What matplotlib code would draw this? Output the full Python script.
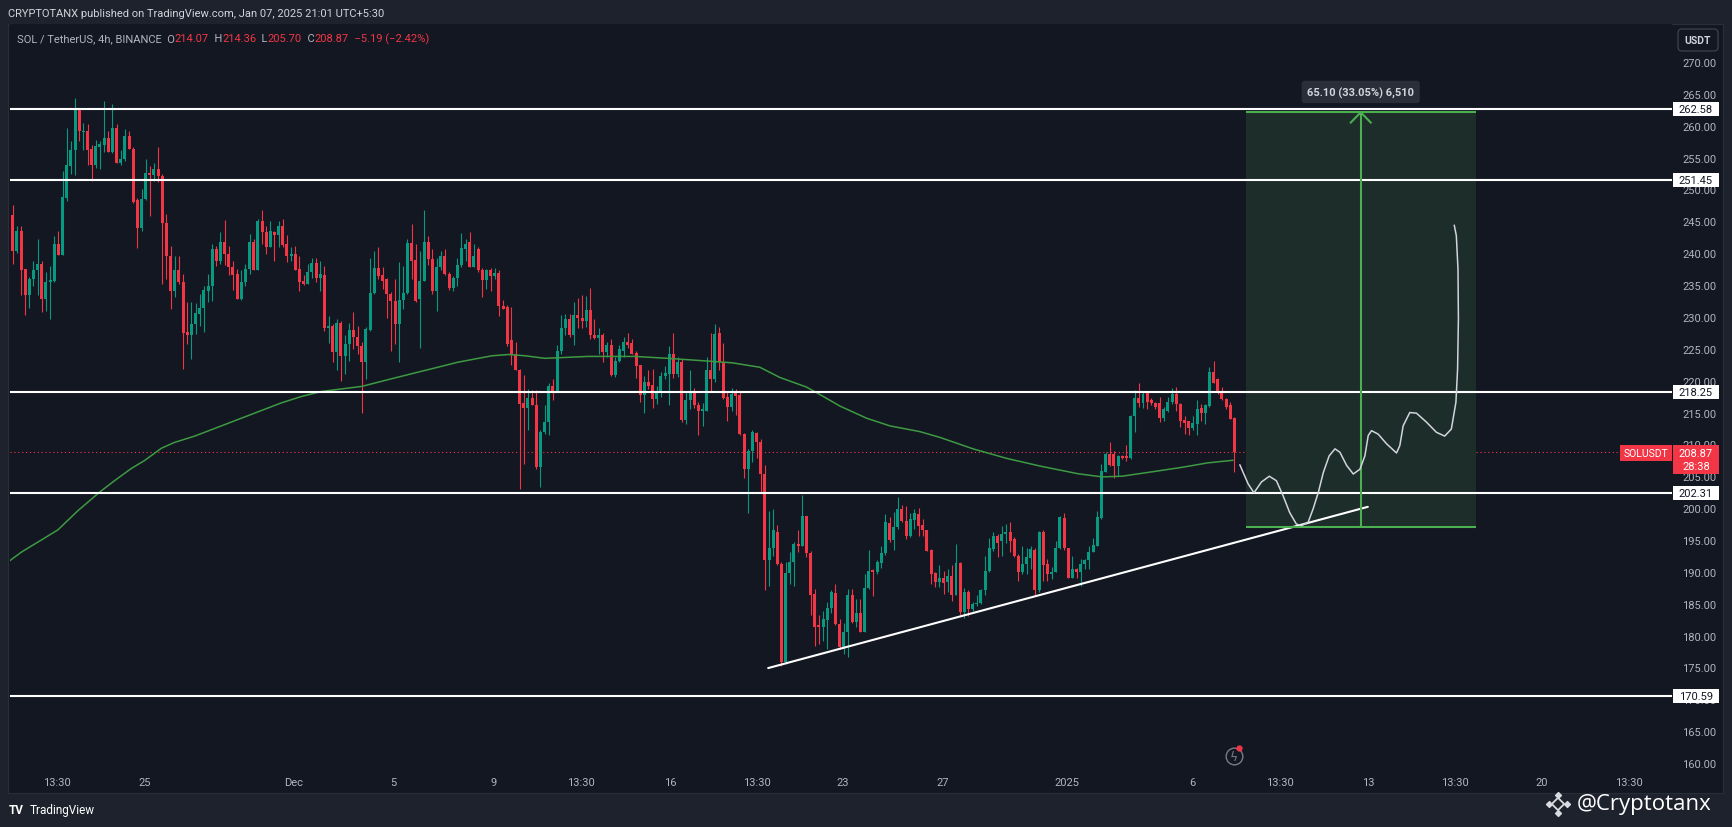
import matplotlib
matplotlib.use('Agg')
import matplotlib.pyplot as plt
from matplotlib.patches import Rectangle, FancyBboxPatch
from matplotlib.ticker import FormatStrFormatter
from matplotlib.transforms import blended_transform_factory
import numpy as np

plt.rcParams['font.family'] = ['Roboto', 'DejaVu Sans']

# ---- SOL/USDT 4h candles (index 0 = first visible candle)
opens = [
    246.0, 240.4, 243.5, 237.5, 233.4, 235.9, 237.4, 238.3, 232.8, 235.4,
    235.7, 241.4, 239.7, 248.6, 253.7, 256.2, 262.5, 259.0, 259.1, 256.3,
    253.8, 256.6, 257.0, 258.0, 255.8, 259.6, 254.2, 254.7, 258.4, 256.4,
    248.4, 243.9, 248.5, 252.6, 252.2, 253.2, 252.1, 244.8, 239.5, 234.0,
    237.4, 235.5, 227.6, 227.2, 228.9, 230.5, 231.4, 234.1, 234.8, 240.6,
    238.8, 241.8, 239.9, 237.9, 236.7, 232.8, 235.4, 237.5, 241.8, 237.4,
    245.1, 243.4, 240.9, 243.3, 242.8, 244.2, 241.4, 239.6, 239.9, 237.5,
    235.7, 235.2, 237.0, 238.5, 236.1, 236.6, 228.3, 228.6, 224.5, 229.0,
    223.8, 225.7, 227.9, 226.8, 225.5, 223.0, 228.0, 233.8, 237.6, 236.5,
    236.0, 233.6, 232.5, 228.9, 232.7, 233.8, 241.6, 239.0, 232.8, 235.7,
    241.8, 239.1, 234.0, 237.9, 239.5, 236.7, 234.5, 236.1, 238.2, 240.7,
    241.7, 237.9, 240.6, 237.4, 235.8, 237.3, 236.4, 236.9, 231.7, 231.5,
    226.4, 224.2, 221.7, 216.5, 215.7, 217.2, 216.1, 206.4, 211.9, 213.5,
    219.2, 218.2, 224.7, 228.2, 229.7, 227.1, 230.3, 229.9, 229.4, 231.1,
    227.2, 226.7, 227.2, 224.5, 225.6, 220.9, 223.1, 224.7, 226.1, 225.9,
    224.4, 222.4, 217.7, 219.8, 219.3, 217.1, 218.4, 220.7, 221.0, 224.2,
    221.0, 223.0, 213.9, 216.9, 218.2, 216.2, 215.3, 215.3, 221.6, 220.3,
    227.5, 223.0, 217.4, 215.8, 218.0, 217.7, 211.6, 206.2, 208.9, 211.8,
    210.4, 205.3, 191.8, 193.7, 196.3, 191.2, 175.9, 189.8, 191.5, 194.4,
    194.1, 198.7, 193.0, 186.5, 181.6, 181.3, 182.5, 184.3, 186.7, 181.8,
    178.2, 180.5, 186.3, 182.2, 183.6, 180.6, 187.4, 190.3, 190.0, 191.4,
    193.0, 197.7, 195.0, 197.0, 199.8, 198.0, 195.7, 198.2, 199.1, 197.3,
    196.5, 193.5, 189.8, 188.4, 189.0, 188.4, 189.4, 186.4, 191.4, 183.7,
    186.9, 184.1, 185.0, 185.1, 187.1, 190.2, 193.6, 195.6, 194.9, 195.9,
    196.2, 195.2, 192.5, 189.9, 191.3, 192.1, 193.5, 187.1, 196.3, 191.2,
    189.7, 189.9, 193.7, 198.4, 193.7, 189.1, 190.5, 190.0, 191.3, 191.8,
    193.1, 194.1, 198.4, 205.7, 208.5, 208.5, 206.6, 208.2, 208.2, 207.8,
    214.4, 217.2, 216.5, 218.0, 217.0, 216.5, 216.5, 214.1, 215.3, 216.6,
    217.9, 216.3, 213.9, 213.6, 212.5, 213.2, 215.7, 215.0, 216.0, 221.4,
    220.2, 218.2, 217.1, 216.1, 214.07,
]
closes = [
    240.4, 243.5, 237.4, 233.4, 235.9, 237.4, 238.3, 232.8, 235.4, 235.8,
    241.4, 239.7, 248.8, 253.8, 256.2, 262.4, 259.1, 259.2, 256.2, 253.8,
    256.8, 257.1, 258.0, 255.8, 259.6, 254.2, 254.8, 258.4, 256.3, 248.1,
    243.9, 248.5, 252.6, 252.2, 253.2, 252.1, 244.8, 239.5, 234.0, 237.4,
    235.5, 227.5, 227.2, 228.9, 230.6, 231.4, 234.3, 234.8, 240.7, 238.8,
    241.8, 239.9, 237.9, 236.6, 232.8, 235.4, 237.5, 241.8, 237.4, 245.1,
    243.4, 240.9, 243.5, 242.8, 244.3, 241.3, 239.6, 239.9, 237.4, 235.5,
    235.2, 237.0, 238.5, 236.1, 236.8, 228.2, 228.5, 224.5, 229.0, 223.8,
    225.7, 227.9, 226.8, 225.5, 223.0, 228.1, 233.8, 237.6, 236.4, 235.7,
    233.6, 232.5, 228.9, 232.7, 233.8, 241.6, 238.8, 232.5, 235.7, 241.8,
    239.1, 234.0, 237.9, 239.5, 236.7, 234.5, 236.1, 238.2, 240.8, 241.4,
    237.9, 239.5, 237.4, 235.8, 237.3, 236.4, 236.9, 231.7, 231.2, 225.7,
    224.2, 221.7, 216.3, 215.7, 217.2, 216.1, 206.4, 211.9, 213.5, 219.2,
    218.2, 224.7, 228.2, 229.7, 227.1, 230.3, 229.8, 229.4, 231.1, 227.1,
    226.7, 227.2, 224.5, 225.6, 220.9, 223.1, 224.9, 226.1, 225.6, 224.2,
    222.3, 217.7, 219.8, 219.1, 217.1, 218.4, 220.8, 221.2, 224.2, 221.0,
    223.0, 213.9, 216.9, 218.1, 216.1, 215.3, 215.5, 221.6, 220.3, 227.3,
    223.0, 217.2, 215.8, 217.9, 217.6, 211.6, 206.2, 208.9, 211.9, 210.3,
    205.3, 191.8, 193.7, 196.5, 191.2, 175.9, 189.8, 191.6, 194.4, 194.1,
    198.7, 193.0, 186.4, 181.3, 181.3, 182.6, 184.3, 186.8, 181.8, 178.2,
    180.5, 186.3, 182.2, 183.5, 180.6, 187.4, 190.2, 190.0, 191.6, 193.0,
    197.8, 195.0, 197.0, 199.8, 198.0, 195.7, 198.3, 199.2, 197.2, 196.5,
    193.3, 189.7, 188.4, 189.0, 188.2, 189.4, 186.4, 191.4, 183.7, 186.9,
    184.1, 185.0, 185.1, 187.2, 190.2, 193.7, 195.6, 194.5, 195.9, 196.2,
    194.9, 192.5, 189.9, 191.2, 192.3, 193.6, 187.1, 196.3, 191.1, 189.7,
    190.0, 193.7, 198.6, 193.7, 189.1, 190.5, 189.9, 191.2, 191.9, 193.1,
    194.2, 198.6, 205.9, 208.5, 206.7, 206.6, 208.2, 207.9, 207.9, 214.5,
    217.2, 216.5, 217.9, 216.7, 216.5, 215.8, 214.1, 215.5, 216.7, 217.9,
    216.3, 213.7, 213.4, 212.5, 213.4, 215.6, 215.0, 216.2, 221.4, 219.7,
    218.1, 217.1, 215.8, 214.0, 208.87,
]
highs = [
    247.5, 244.3, 244.3, 237.5, 236.2, 238.7, 242.3, 238.8, 237.0, 238.0,
    242.7, 243.5, 252.9, 259.7, 257.6, 264.3, 262.7, 260.5, 260.2, 256.9,
    257.8, 257.6, 263.9, 259.2, 263.4, 260.2, 256.2, 259.5, 259.1, 256.6,
    248.6, 250.1, 254.8, 253.7, 254.1, 256.6, 252.4, 246.1, 241.1, 239.6,
    239.6, 236.7, 232.4, 232.3, 232.2, 233.6, 234.9, 236.7, 241.4, 241.2,
    243.3, 245.2, 241.2, 238.8, 237.5, 237.3, 238.3, 243.0, 242.2, 245.4,
    246.7, 244.3, 245.1, 243.5, 245.1, 245.4, 242.8, 240.9, 241.2, 239.6,
    236.5, 238.3, 239.2, 239.2, 238.8, 238.0, 230.2, 228.9, 229.7, 229.4,
    227.1, 229.1, 230.8, 228.6, 226.0, 228.4, 239.3, 240.4, 240.9, 237.8,
    236.1, 233.9, 236.0, 238.6, 238.0, 242.2, 244.6, 241.4, 240.4, 246.8,
    242.7, 240.7, 239.3, 240.4, 240.7, 237.0, 236.4, 239.2, 243.2, 242.3,
    243.4, 241.4, 240.9, 237.6, 237.5, 237.6, 237.6, 237.3, 232.7, 231.8,
    231.5, 226.0, 221.9, 220.9, 218.7, 218.6, 218.6, 212.2, 216.2, 219.7,
    220.2, 225.6, 230.3, 230.5, 230.5, 232.3, 232.9, 233.4, 233.3, 234.5,
    229.7, 228.2, 227.5, 226.1, 226.5, 223.7, 225.6, 226.8, 227.5, 226.6,
    224.7, 222.4, 220.8, 221.6, 221.8, 219.2, 221.3, 222.3, 225.4, 227.5,
    223.7, 223.4, 218.2, 221.7, 218.8, 216.7, 216.5, 223.7, 227.5, 228.9,
    228.4, 225.9, 218.2, 218.9, 218.7, 218.2, 211.8, 209.3, 212.2, 212.0,
    210.9, 206.7, 199.6, 199.8, 197.3, 191.5, 191.5, 193.1, 194.7, 196.6,
    202.1, 198.8, 193.2, 187.3, 183.2, 183.9, 185.3, 187.1, 188.1, 182.6,
    182.0, 187.3, 187.3, 185.7, 185.7, 189.7, 193.5, 190.5, 191.9, 194.1,
    199.1, 198.6, 199.4, 201.8, 200.5, 200.4, 199.3, 199.8, 200.0, 198.3,
    196.5, 193.6, 189.9, 191.0, 190.2, 190.4, 191.1, 194.4, 191.5, 187.4,
    187.1, 185.3, 186.3, 187.3, 192.5, 195.3, 196.2, 196.0, 197.2, 197.5,
    197.8, 195.4, 192.8, 194.1, 193.7, 194.1, 193.7, 196.4, 196.5, 192.0,
    190.7, 194.9, 198.8, 199.2, 193.8, 192.5, 190.6, 192.0, 192.0, 194.1,
    195.3, 199.6, 206.9, 208.8, 210.4, 209.0, 208.3, 208.3, 209.9, 214.6,
    218.6, 219.7, 218.2, 218.2, 217.2, 216.7, 217.5, 215.8, 217.4, 218.8,
    218.95, 216.5, 214.5, 213.7, 214.4, 217.0, 216.3, 216.3, 222.1, 223.1,
    220.4, 218.96, 217.2, 216.7, 214.36,
]
lows = [
    238.3, 240.1, 233.4, 230.3, 231.4, 234.9, 233.4, 230.8, 231.0, 229.6,
    235.4, 239.7, 239.7, 248.2, 252.4, 252.3, 257.6, 256.2, 253.8, 251.4,
    253.3, 253.2, 255.9, 255.8, 255.7, 254.2, 253.8, 254.4, 256.3, 247.9,
    240.8, 243.5, 248.4, 245.8, 251.4, 251.1, 235.2, 235.9, 231.2, 233.1,
    235.2, 221.8, 225.8, 223.4, 227.3, 228.6, 227.6, 232.4, 232.5, 238.0,
    238.3, 238.1, 236.5, 234.3, 232.8, 232.7, 234.9, 236.7, 237.4, 237.4,
    241.4, 239.9, 240.9, 238.8, 240.9, 240.9, 238.6, 238.7, 237.3, 234.0,
    235.0, 235.2, 236.1, 235.4, 234.1, 227.8, 225.9, 222.9, 221.6, 220.0,
    221.1, 223.1, 225.0, 224.2, 215.0, 220.3, 227.8, 233.6, 236.0, 234.4,
    229.9, 224.7, 225.7, 223.0, 231.3, 233.6, 235.9, 232.4, 225.1, 235.7,
    238.2, 233.6, 231.0, 237.3, 236.5, 234.3, 234.1, 234.9, 237.9, 238.8,
    237.8, 237.8, 237.0, 233.1, 234.4, 234.1, 236.0, 230.2, 231.2, 225.5,
    222.4, 221.6, 203.0, 206.9, 212.2, 216.1, 206.2, 203.3, 211.6, 211.4,
    216.9, 218.2, 224.2, 227.2, 226.8, 225.6, 228.2, 228.2, 228.4, 226.5,
    226.5, 224.2, 223.0, 223.7, 220.7, 220.5, 223.0, 223.7, 225.1, 224.2,
    220.4, 216.7, 215.0, 218.7, 215.7, 216.3, 217.4, 220.3, 216.2, 220.4,
    220.5, 213.5, 213.2, 215.6, 215.7, 211.4, 212.9, 215.3, 218.4, 219.8,
    221.6, 217.1, 213.6, 215.3, 214.6, 211.5, 204.8, 199.3, 207.2, 207.8,
    202.6, 187.1, 187.8, 192.5, 191.0, 175.3, 175.5, 188.1, 187.8, 193.1,
    194.0, 192.4, 183.2, 178.3, 178.7, 179.2, 177.9, 183.6, 181.6, 177.9,
    177.1, 176.6, 182.0, 181.3, 180.5, 180.6, 187.3, 186.2, 189.7, 190.6,
    192.6, 194.7, 193.5, 196.7, 197.8, 195.1, 195.4, 196.7, 195.7, 195.6,
    193.2, 188.1, 187.6, 187.6, 186.5, 186.8, 185.5, 186.3, 183.2, 182.7,
    183.1, 183.8, 184.7, 185.0, 186.4, 189.9, 193.3, 192.4, 192.5, 194.6,
    193.1, 192.3, 188.5, 189.7, 189.7, 190.4, 186.3, 186.8, 188.6, 188.5,
    188.9, 189.9, 193.6, 193.5, 189.0, 189.0, 189.1, 187.8, 190.4, 190.4,
    193.1, 194.0, 198.3, 205.6, 206.6, 204.7, 205.0, 207.7, 207.4, 207.7,
    212.0, 215.8, 215.7, 215.6, 216.2, 215.6, 213.5, 213.7, 215.1, 216.3,
    215.3, 212.8, 211.6, 211.5, 212.3, 211.5, 213.7, 213.2, 215.8, 219.6,
    217.9, 216.9, 215.6, 214.0, 205.70,
]

# moving average (green study line)
ma_x = [-0.6, 2.1, 6.9, 10.9, 15.7, 20.9, 24.5, 28.5, 31.8, 35.8, 38.9, 43.8,
        48.6, 55.0, 59.8, 64.6, 69.4, 74.3, 84.0, 91.2, 99.2, 107.2, 115.3, 119.3,
        123.3, 128.1, 138.4, 149.7, 157.7, 166.6, 173.1, 179.8, 184.6, 191.0,
        193.5, 199.1, 205.5, 211.1, 218.3, 223.1, 231.1, 239.2, 247.2, 256.3,
        262.1, 266.9, 273.2, 281.4, 287.6, 293.6]
ma_y = [191.8, 193.1, 195.0, 196.6, 199.6, 202.5, 204.3, 206.2, 207.5, 209.4,
        210.3, 211.3, 212.5, 214.1, 215.3, 216.5, 217.5, 218.3, 219.1, 220.3,
        221.6, 222.9, 223.9, 224.1, 223.9, 223.5, 223.8, 223.8, 223.5, 223.1,
        222.8, 222.1, 220.5, 219.0, 218.1, 216.0, 214.1, 212.9, 212.0, 211.1,
        209.3, 207.8, 206.6, 205.4, 204.9, 205.0, 205.6, 206.4, 207.1, 207.5]

levels = [262.58, 251.45, 218.25, 202.31, 170.59]
last_price = 208.87

# long-position box and hand drawn projection
box_x0, box_x1 = 296.9, 352.1
box_lo, box_hi = 197.0, 262.1
arrow_x = 324.4
trend_x = [181.8, 326.1]
trend_y = [174.9, 200.2]
path_x = [295.3, 297.3, 298.7, 300.5, 302.4, 304.1, 305.7, 307.3, 308.9, 310.1,
          311.75, 312.95, 314.2, 315.4, 316.8, 318.2, 319.4, 321.0, 322.6, 324.2,
          325.4, 326.2, 327.0, 328.6, 330.6, 333.0, 333.8, 334.6, 336.2, 337.8,
          340.2, 342.6, 344.6, 346.2, 347.3, 347.7, 347.9, 347.8, 347.4, 346.9]
path_y = [206.8, 203.8, 202.4, 204.1, 205.0, 204.3, 201.95, 199.3, 197.5, 197.25,
          197.8, 199.9, 202.5, 205.6, 208.2, 209.3, 208.75, 206.7, 205.35, 206.1,
          208.2, 211.4, 212.15, 211.6, 210.1, 208.65, 209.8, 212.9, 215.0, 214.9,
          213.5, 211.9, 211.3, 212.4, 216.6, 221.8, 229.7, 237.5, 242.75, 244.4]

tick_pos = [10.7, 31.8, 67.7, 91.7, 115.8, 136.7, 158.2, 179.1, 199.8, 223.8,
            253.7, 283.8, 304.9, 326.1, 347.0, 368.0, 388.9]
tick_lbl = ['13:30', '25', 'Dec', '5', '9', '13:30', '16', '13:30', '23', '27',
            '2025', '6', '13:30', '13', '13:30', '20', '13:30']

PANE = '#131722'
FRAME = '#1e222d'
GREEN = '#089981'
RED = '#f23645'
TXT = '#b2b5be'

W, H = 1733, 828
fig = plt.figure(figsize=(W / 100, H / 100), dpi=100, facecolor=FRAME)

# background layer in pixel coordinates
bg = fig.add_axes([0, 0, 1, 1], zorder=0)
bg.set_xlim(0, W)
bg.set_ylim(H, 0)
bg.axis('off')
bg.add_patch(Rectangle((8, 25), 1715, 769, facecolor=PANE, edgecolor='#2a2e39', lw=0.8))

ax = fig.add_axes([10 / W, 1 - 772 / H, 1662 / W, 747 / H], zorder=1)
ax.set_facecolor(PANE)
for s in ax.spines.values():
    s.set_visible(False)
ax.set_xlim(-0.65, 399.3)
ax.set_ylim(158.75, 275.96)

# candles
o = np.array(opens)
c = np.array(closes)
idx = np.arange(len(c))
col = np.where(c >= o, GREEN, RED)
ax.vlines(idx, lows, highs, colors=col, lw=0.8, zorder=3)
ax.bar(idx, np.maximum(np.abs(c - o), 0.15), bottom=np.minimum(o, c), width=0.72,
       color=col, lw=0, zorder=3)

ax.plot(ma_x, ma_y, color='#3d9a42', lw=1.1, zorder=3.5, solid_joinstyle='round')
ax.axhline(last_price, color=RED, lw=0.8, ls=(0, (1, 2.5)), zorder=2)

# long position box
ax.add_patch(Rectangle((box_x0, box_lo), box_x1 - box_x0, box_hi - box_lo,
                       facecolor='#1c2d2a', edgecolor='none', zorder=2.5))
ax.hlines([box_lo, box_hi], box_x0, box_x1, color='#4caf50', lw=1.5, zorder=4.5)
ax.vlines(arrow_x, box_lo, box_hi, color='#4caf50', lw=1.5, zorder=4.5)
ax.plot([arrow_x - 2.4, arrow_x, arrow_x + 2.4], [box_hi - 1.6, box_hi, box_hi - 1.6],
        color='#4caf50', lw=1.5, zorder=4.5)
ax.text(arrow_x, 265.3, '65.10 (33.05%) 6,510', ha='center', va='center', fontsize=8,
        color='#d1d4dc', fontweight='bold', zorder=6,
        bbox=dict(boxstyle='round,pad=0.5,rounding_size=0.3', fc='#2a2e39', ec='none'))

for lv in levels:
    ax.axhline(lv, color='white', lw=1.5, zorder=4)
ax.plot(trend_x, trend_y, color='white', lw=1.5, zorder=4, solid_capstyle='round')
ax.plot(path_x, path_y, color='#d1d4dc', lw=1.1, zorder=5, solid_capstyle='round',
        solid_joinstyle='round')

# lightning icon
ax.plot([293.9], [161.1], marker='o', ms=12, mfc='none', mec='#787b86', mew=1.0, zorder=5)
ax.text(293.9, 161.1, 'ϟ', ha='center', va='center', fontsize=9, color='#787b86',
        family='DejaVu Sans', zorder=5)
ax.plot([295.0], [162.3], marker='o', ms=3.5, color=RED, zorder=6)

# axes
ax.yaxis.tick_right()
ax.set_yticks(np.arange(160, 271, 5))
ax.yaxis.set_major_formatter(FormatStrFormatter('%.2f'))
ax.tick_params(axis='y', length=0, pad=7.2, labelsize=8, labelcolor=TXT)
ax.set_xticks(tick_pos, tick_lbl)
ax.tick_params(axis='x', length=0, pad=4, labelsize=8, labelcolor=TXT)

# price-scale labels
tr = blended_transform_factory(bg.transData, ax.transData)
for lv in levels:
    ax.add_patch(Rectangle((1673, lv - 1.1), 46, 2.2, transform=tr, fc='white', ec='none',
                           clip_on=False, zorder=6))
    ax.text(1696, lv, f'{lv:.2f}', transform=tr, ha='center', va='center', fontsize=8,
            color=PANE, clip_on=False, zorder=7)
ax.add_patch(Rectangle((1620, 207.4), 52, 2.5, transform=tr, fc=RED, ec='none',
                       clip_on=False, zorder=6))
ax.text(1646, 208.65, 'SOLUSDT', transform=tr, ha='center', va='center', fontsize=7.5,
        color='white', clip_on=False, zorder=7)
ax.add_patch(Rectangle((1673, 205.35), 46, 4.55, transform=tr, fc=RED, ec='none',
                       clip_on=False, zorder=6))
ax.text(1696, 208.65, f'{last_price:.2f}', transform=tr, ha='center', va='center',
        fontsize=8, color='white', clip_on=False, zorder=7)
ax.text(1696, 206.55, '28:38', transform=tr, ha='center', va='center', fontsize=8,
        color='white', clip_on=False, zorder=7)

bg.add_patch(FancyBboxPatch((1678, 30), 40, 22, boxstyle='round,pad=0,rounding_size=4',
                            fc=PANE, ec='#434651', lw=0.8))
bg.text(1698, 41, 'USDT', ha='center', va='center', fontsize=7.5, color='#d1d4dc',
        fontweight='bold')

# header
bg.text(8, 14, 'CRYPTOTANX published on TradingView.com, Jan 07, 2025 21:01 UTC+5:30',
        fontsize=8, color='#d1d4dc', va='center', ha='left')
parts = [('SOL / TetherUS, 4h, BINANCE  O', TXT), ('214.07', RED), ('  H', TXT),
         ('214.36', RED), ('  L', TXT), ('205.70', RED), ('  C', TXT), ('208.87', RED),
         ('  \u22125.19 (\u22122.42%)', RED)]
t = ax.annotate(parts[0][0], (17, 39), xycoords=bg.transData, color=parts[0][1],
                fontsize=8, va='center', ha='left', zorder=7)
for s, colr in parts[1:]:
    t = ax.annotate(s, (1, 0.5), xycoords=t, color=colr, fontsize=8, va='center',
                    ha='left', zorder=7)

# footer
bg.text(9, 811, 'TV', fontsize=8.5, color='white', fontweight='bold', va='center')
bg.text(30, 811, 'TradingView', fontsize=8.5, color='white', va='center')
bg.scatter([1558], [805], marker='D', s=40, facecolors='none', edgecolors='#d8dadf', lw=1.3)
bg.scatter([1549, 1567, 1558, 1558], [805, 805, 796, 814], marker='D', s=9, color='#d8dadf')
bg.text(1577, 805, '@Cryptotanx', fontsize=16, color='white', va='center', ha='left',
        family=['Open Sans', 'DejaVu Sans'])

fig.savefig('out.png', dpi=100, facecolor=FRAME)
